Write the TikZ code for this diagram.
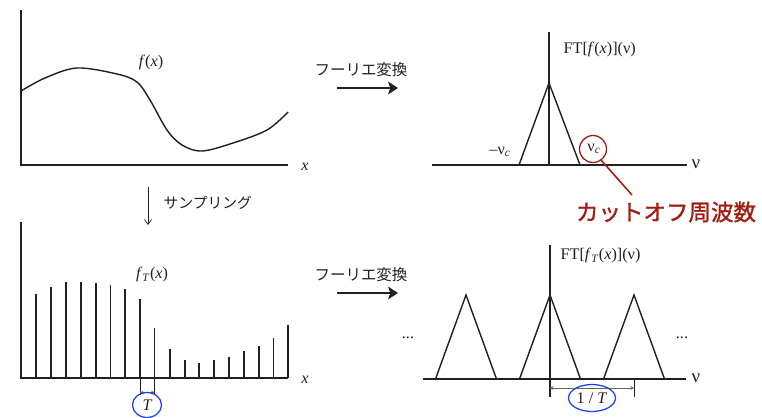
\documentclass[tikz,border=0pt]{standalone}
\usepackage{fontspec}
\setmainfont{Liberation Serif}
\newfontfamily\jpfont{Noto Sans CJK JP}
\newfontfamily\jpmedium[FakeBold=1.2]{Noto Sans CJK JP}
\usetikzlibrary{arrows.meta}
\definecolor{ink}{HTML}{231F20}
\definecolor{cutred}{HTML}{A11A0E}
\definecolor{markblue}{HTML}{1E40F0}

\tikzset{
  axis/.style={line width=0.9pt, draw=ink},
  curve/.style={line width=1pt, draw=ink},
  lbl/.style={font=\fontsize{11.5}{13}\selectfont, text=ink, inner sep=1pt},
  itlbl/.style={font=\itshape\fontsize{11.5}{13}\selectfont, text=ink, inner sep=1pt},
  nulbl/.style={font=\fontsize{13.5}{15}\selectfont, text=ink, inner sep=1pt},
  jplbl/.style={font=\jpfont\fontsize{10.5}{12}\selectfont, text=ink, inner sep=1pt},
  ftarrow/.style={line width=1.1pt, draw=ink, -{Stealth[length=7pt,width=9pt,inset=1.5pt]}},
  dimarrow/.style={line width=0.5pt, draw=ink!70, {Stealth[length=2.5pt,width=2.5pt]}-{Stealth[length=2.5pt,width=2.5pt]}},
}

\begin{document}
\begin{tikzpicture}[x=0.025cm, y=-0.025cm]
      \useasboundingbox (0,0) rectangle (762,417);
      % --- f(x) ---
      \coordinate (oA) at (21,165);
      \coordinate (yA) at (21,10);
      \coordinate (xA) at (288,165);
      \draw[axis] (yA) -- (oA) -- (xA);
      \node[itlbl] (xlabA) at (305,167) {x};
      \draw[curve] plot[smooth, tension=0.55] coordinates {(21,91) (45,78) (77,68)
        (117,74) (137,82) (150,100) (167,130) (182,145) (202,151) (233,143)
        (267,130) (288,112)};
      \node[lbl] (fx) at (151,63) {\textit{f}(\textit{x})};
      % --- sampling ---
      \coordinate (sampTop) at (148,187);
      \coordinate (sampBot) at (148,225);
      \draw[line width=0.5pt, ink, -{Straight Barb[length=3.5pt,width=5pt]}] (sampTop) -- (sampBot);
      \node[jplbl, anchor=west] (sampling) at (162,203) {サンプリング};
      % --- f_T(x) ---
      \coordinate (oB) at (21,378);
      \coordinate (yB) at (21,222);
      \coordinate (xB) at (288,378);
      \draw[axis] (yB) -- (oB) -- (xB);
      \node[itlbl] (xlabB) at (305,380) {x};
      \foreach \xs/\ys in {36/294, 51/287, 66/282, 81/282, 96/283, 110.7/285,
        125/289, 140/299, 154.7/328, 170/349, 185/360, 199/363, 214/360,
        229/357, 244/351, 259/346, 273.7/338, 288/325} {
        \draw[curve] (\xs,378) -- (\xs,\ys);
      }
      \node[lbl] (fTx) at (152,275) {\textit{f}\textsubscript{\textit{T}}(\textit{x})};
      % T spacing
      \coordinate (tL) at (140,395);
      \coordinate (tR) at (154.7,395);
      \draw[line width=0.6pt, ink] (140,378) -- (tL) (154.7,378) -- (tR);
      \draw[dimarrow] (140,392.5) -- (154.7,392.5);
      \node[itlbl] (Tlab) at (147,405) {T};
      \draw[markblue, line width=0.9pt] (Tlab.center) ellipse (14.5 and 12.5);
      % --- Fourier arrows ---
      \node[jplbl, font=\jpfont\fontsize{11}{12}\selectfont] (ftA) at (361,70) {フーリエ変換};
      \coordinate (ftAs) at (337,88);
      \coordinate (ftAe) at (398,88);
      \draw[ftarrow] (ftAs) -- (ftAe);
      \node[jplbl, font=\jpfont\fontsize{11}{12}\selectfont] (ftB) at (361,275) {フーリエ変換};
      \coordinate (ftBs) at (337,293);
      \coordinate (ftBe) at (398,293);
      \draw[ftarrow] (ftBs) -- (ftBe);
      % --- FT[f(x)] ---
      \coordinate (oC) at (549,165);
      \coordinate (yC) at (549,32);
      \coordinate (xCl) at (432,165);
      \coordinate (xCr) at (687,165);
      \draw[axis] (xCl) -- (xCr);
      \draw[axis] (oC) -- (yC);
      \draw[curve] (519,165) -- (549,83) -- (580,165);
      \node[nulbl] (nuA) at (696,164) {ν};
      \node[lbl, anchor=west] (ftf) at (562,50) {FT[\textit{f}(\textit{x})](ν)};
      \node[lbl] (nucm) at (500,152) {–ν\textsubscript{\textit{c}}};
      \node[lbl] (nuc) at (594,149) {ν\textsubscript{\textit{c}}};
      \draw[cutred, line width=0.9pt] (593,149) circle (13.5);
      \node[font=\jpmedium\fontsize{16}{18}\selectfont, text=cutred, inner sep=1pt] (cutoff) at (666,212) {カットオフ周波数};
      \coordinate (leadA) at (601,160);
      \coordinate (leadB) at (632,195);
      \draw[cutred, line width=1.1pt] (leadA) -- (leadB);
      % --- FT[f_T(x)] ---
      \coordinate (oD) at (550,379);
      \coordinate (yD) at (550,245);
      \coordinate (yDb) at (550,397);
      \coordinate (xDl) at (423,379);
      \coordinate (xDr) at (686,379);
      \draw[axis] (xDl) -- (xDr);
      \draw[axis] (yDb) -- (yD);
      \foreach \cx in {466, 550, 634} {
        \draw[curve] (\cx-30.5,379) -- (\cx,295) -- (\cx+30.5,379);
      }
      \node[nulbl] (nuB) at (696,378) {ν};
      \node[lbl, anchor=west] (ftfT) at (559,256) {FT[\textit{f}\textsubscript{\textit{T}}(\textit{x})](ν)};
      \node[lbl] (dotsL) at (408,338) {...};
      \node[lbl] (dotsR) at (682,338) {...};
      % 1/T period
      \coordinate (pL) at (550,388);
      \coordinate (pR) at (634,388);
      \draw[line width=0.6pt, ink] (634,379) -- (634,397);
      \draw[dimarrow] (pL) -- (pR);
      \node[lbl] (invT) at (592,398) {1 / \textit{T}};
      \draw[markblue, line width=0.9pt] (invT.center) ellipse (23.5 and 13.5);
    \end{tikzpicture}
\end{document}
